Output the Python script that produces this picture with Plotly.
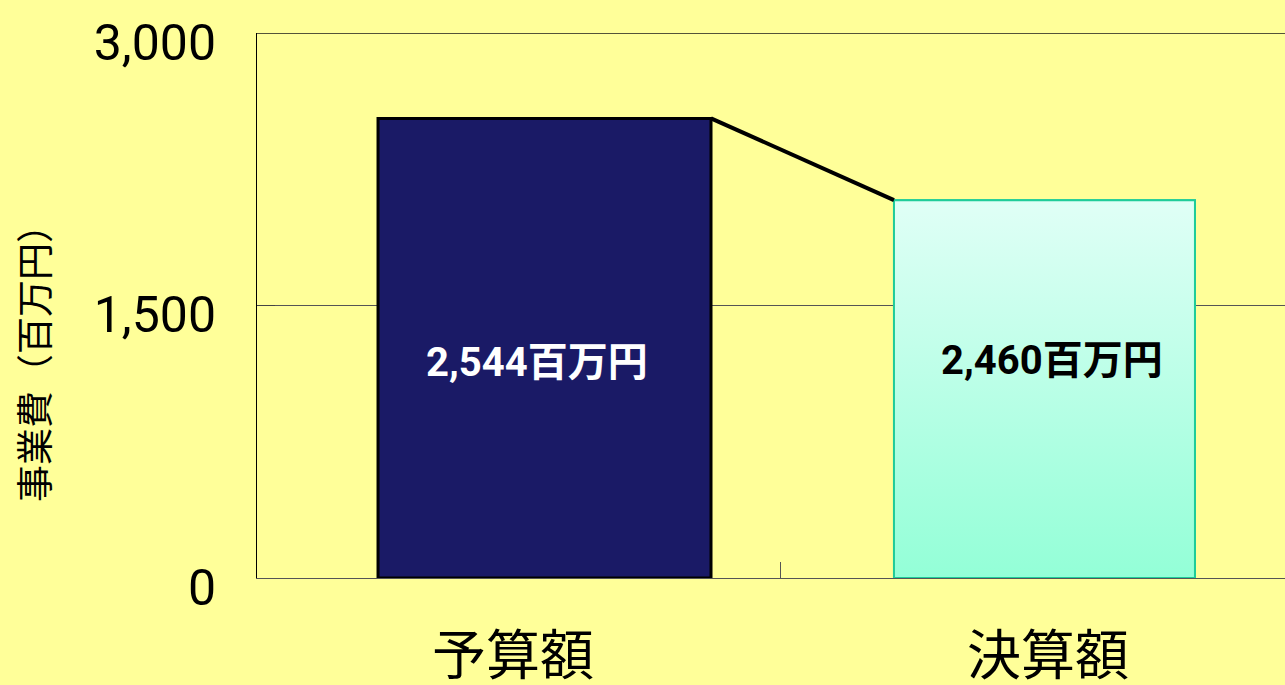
import plotly.graph_objects as go

# ---- data ----
categories = ["予算額", "決算額"]
bar_values = [2530, 2080]              # heights as drawn in the picture
label_texts = ["2,544百万円", "2,460百万円"]
y_ticks = [0, 1500, 3000]
y_tick_labels = ["0", "1,500", "3,000"]
y_title = "事業費（百万円）"

# ---- styling / geometry ----
cat_x = [0, 1]
bar_offsets = [-0.2523, -0.2879]
bar_widths = [0.6224, 0.5626]
bg = "#ffff99"
cjk = "Noto Sans CJK JP"

fig = go.Figure()

# bar 1 (navy)
fig.add_trace(go.Bar(
    x=[cat_x[0]], y=[bar_values[0]], offset=bar_offsets[0], width=bar_widths[0],
    marker=dict(color="#1a1a66", line=dict(color="#000000", width=3)),
    hoverinfo="skip", showlegend=False))

# bar 2 (base bar, then gradient overlay)
fig.add_trace(go.Bar(
    x=[cat_x[1]], y=[bar_values[1]], offset=bar_offsets[1], width=bar_widths[1],
    marker=dict(color="#bfffe6", line=dict(color="#1fcc99", width=2)),
    hoverinfo="skip", showlegend=False))

l2 = cat_x[1] + bar_offsets[1]
r2 = l2 + bar_widths[1]
fig.add_trace(go.Scatter(
    x=[l2, r2, r2, l2, l2], y=[0, 0, bar_values[1], bar_values[1], 0],
    mode="lines", fill="toself",
    fillgradient=dict(type="vertical",
                      colorscale=[[0, "#93ffd7"], [1, "#e0fff6"]]),
    line=dict(color="#1fcc99", width=2),
    hoverinfo="skip", showlegend=False))

# series line between bar tops
r1 = cat_x[0] + bar_offsets[0] + bar_widths[0]
fig.add_trace(go.Scatter(
    x=[r1, l2], y=[bar_values[0], bar_values[1]], mode="lines",
    line=dict(color="#000000", width=4),
    hoverinfo="skip", showlegend=False))

# data labels
label_pos = [(0.0449, 1189, "#ffffff"), (1.0075, 1200, "#000000")]
for txt, (lx, ly, col) in zip(label_texts, label_pos):
    fig.add_annotation(x=lx, y=ly, xref="x", yref="y", text="<b>" + txt + "</b>",
                       showarrow=False, xanchor="center", yanchor="middle",
                       font=dict(family="Roboto, " + cjk, size=40, color=col))

# y axis title
fig.add_annotation(x=-0.2179, y=0.411, xref="paper", yref="paper", text=y_title,
                   textangle=-90, showarrow=False, xanchor="center", yanchor="middle",
                   font=dict(family=cjk, size=37, color="#000000"))

# top line of the plot area
fig.add_shape(type="line", xref="paper", yref="y", x0=0, x1=1, y0=3000, y1=3000,
              line=dict(color="#1a1a1a", width=1.5))

fig.update_layout(
    width=1285, height=685,
    margin=dict(l=257, r=0, t=33, b=107, autoexpand=False),
    paper_bgcolor=bg, plot_bgcolor=bg,
    barmode="overlay",
    xaxis=dict(range=[-0.4785, 1.443], tickvals=cat_x, ticktext=categories,
               ticks="", showgrid=False, zeroline=False, automargin=False,
               showline=True, linecolor="#555555", linewidth=1,
               tickfont=dict(family=cjk, size=54, color="#000000"),
               ticklabelstandoff=31, ticklabeloverflow="allow",
               minor=dict(tickvals=[0.5], ticks="inside", ticklen=16,
                          tickcolor="#555555", showgrid=False)),
    yaxis=dict(range=[0, 3000], tickvals=y_ticks, ticktext=y_tick_labels,
               ticks="inside", ticklen=18, tickcolor="#444444",
               showgrid=True, gridcolor="#555555", gridwidth=1,
               zeroline=False, showline=True, linecolor="#000000", linewidth=1,
               automargin=False, ticklabeloverflow="allow",
               tickfont=dict(family="Roboto", size=50, color="#000000"),
               ticklabelstandoff=30, ticklabelshift=9),
)

fig.write_html("out.html")
